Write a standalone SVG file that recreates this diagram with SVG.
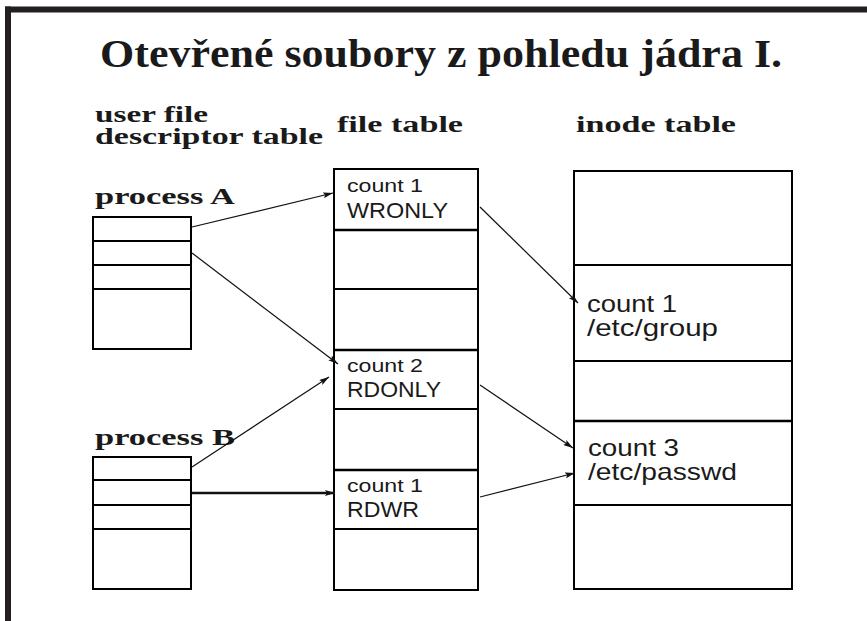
<svg xmlns="http://www.w3.org/2000/svg" width="867" height="621" viewBox="0 0 867 621">
  <defs>
    <style>
      .frame { fill: #231f20; }
      .tbl { fill: #fff; stroke: #000; stroke-width: 2; }
      .row { stroke: #000; stroke-width: 2; }
      .row-b { stroke: #000; stroke-width: 2.6; }
      .title { font-family: "Liberation Serif", "Times New Roman", serif; font-weight: bold; font-size: 40px; fill: #1a1a1a; }
      .head { font-family: "Liberation Serif", "Times New Roman", serif; font-weight: bold; font-size: 24px; fill: #1a1a1a; }
      .cnt { font-family: "Liberation Sans", Arial, sans-serif; font-size: 18px; fill: #1a1a1a; }
      .mode { font-family: "Liberation Sans", Arial, sans-serif; font-size: 22px; fill: #1a1a1a; }
      .ino { font-family: "Liberation Sans", Arial, sans-serif; font-size: 24px; fill: #1a1a1a; }
      .link { stroke: #111; stroke-width: 1.2; fill: none; marker-end: url(#head); }
      .link-b { stroke: #111; stroke-width: 2.6; fill: none; marker-end: url(#head); }
    </style>
    <marker id="head" viewBox="0 0 10 6" refX="10" refY="3" markerWidth="10" markerHeight="6" markerUnits="userSpaceOnUse" orient="auto">
      <path d="M0,0 L10,3 L0,6 L2,3 z" fill="#111"/>
    </marker>
  </defs>

  <rect width="867" height="621" fill="#fff"/>

  <!-- slide frame -->
  <rect class="frame" x="5" y="6.5" width="862" height="6"/>
  <rect class="frame" x="5" y="6.5" width="6" height="614.5"/>

  <text class="title" x="100" y="67" textLength="682" lengthAdjust="spacingAndGlyphs">Otevřené soubory z pohledu jádra I.</text>

  <!-- column headings -->
  <g id="headings">
    <text class="head" x="95" y="122" textLength="113" lengthAdjust="spacingAndGlyphs">user file</text>
    <text class="head" x="95" y="144" textLength="228" lengthAdjust="spacingAndGlyphs">descriptor table</text>
    <text class="head" x="337" y="132" textLength="126" lengthAdjust="spacingAndGlyphs">file table</text>
    <text class="head" x="576" y="132" textLength="160" lengthAdjust="spacingAndGlyphs">inode table</text>
  </g>

  <!-- per-process descriptor tables -->
  <g id="processA">
    <text class="head" x="95" y="204" textLength="140" lengthAdjust="spacingAndGlyphs">process A</text>
    <rect class="tbl" x="93" y="217" width="98" height="132"/>
    <line class="row" x1="93" y1="241" x2="191" y2="241"/>
    <line class="row" x1="93" y1="265" x2="191" y2="265"/>
    <line class="row" x1="93" y1="289" x2="191" y2="289"/>
  </g>

  <g id="processB">
    <text class="head" x="95" y="445" textLength="140" lengthAdjust="spacingAndGlyphs">process B</text>
    <rect class="tbl" x="93" y="457" width="98" height="132"/>
    <line class="row" x1="93" y1="480" x2="191" y2="480"/>
    <line class="row" x1="93" y1="505" x2="191" y2="505"/>
    <line class="row" x1="93" y1="529" x2="191" y2="529"/>
  </g>

  <!-- system-wide file table -->
  <g id="fileTable">
    <rect class="tbl" x="334" y="169" width="144" height="421"/>
    <line class="row-b" x1="334" y1="230" x2="478" y2="230"/>
    <line class="row" x1="334" y1="289" x2="478" y2="289"/>
    <line class="row-b" x1="334" y1="350" x2="478" y2="350"/>
    <line class="row" x1="334" y1="409" x2="478" y2="409"/>
    <line class="row-b" x1="334" y1="470" x2="478" y2="470"/>
    <line class="row" x1="334" y1="529" x2="478" y2="529"/>
  </g>
  <g id="fileWronly">
    <text class="cnt" x="347" y="192" textLength="76" lengthAdjust="spacingAndGlyphs">count 1</text>
    <text class="mode" x="347" y="218" textLength="101" lengthAdjust="spacingAndGlyphs">WRONLY</text>
  </g>
  <g id="fileRdonly">
    <text class="cnt" x="347" y="372" textLength="76" lengthAdjust="spacingAndGlyphs">count 2</text>
    <text class="mode" x="347" y="397" textLength="94" lengthAdjust="spacingAndGlyphs">RDONLY</text>
  </g>
  <g id="fileRdwr">
    <text class="cnt" x="347" y="492" textLength="76" lengthAdjust="spacingAndGlyphs">count 1</text>
    <text class="mode" x="347" y="517" textLength="72" lengthAdjust="spacingAndGlyphs">RDWR</text>
  </g>

  <!-- in-core inode table -->
  <g id="inodeTable">
    <rect class="tbl" x="574" y="171" width="218" height="418"/>
    <line class="row" x1="574" y1="265" x2="792" y2="265"/>
    <line class="row" x1="574" y1="361" x2="792" y2="361"/>
    <line class="row-b" x1="574" y1="421" x2="792" y2="421"/>
    <line class="row" x1="574" y1="505" x2="792" y2="505"/>
  </g>
  <g id="inodeGroup">
    <text class="ino" x="587" y="312" textLength="90" lengthAdjust="spacingAndGlyphs">count 1</text>
    <text class="ino" x="587" y="336" textLength="131" lengthAdjust="spacingAndGlyphs">/etc/group</text>
  </g>
  <g id="inodePasswd">
    <text class="ino" x="588" y="456" textLength="91" lengthAdjust="spacingAndGlyphs">count 3</text>
    <text class="ino" x="588" y="480" textLength="149" lengthAdjust="spacingAndGlyphs">/etc/passwd</text>
  </g>

  <!-- references between tables -->
  <g id="connectors">
    <line class="link" x1="192" y1="227" x2="333" y2="193"/>
    <line class="link" x1="192" y1="253" x2="338" y2="364"/>
    <line class="link" x1="192" y1="467" x2="329" y2="377"/>
    <line class="link-b" x1="192" y1="493" x2="335" y2="493"/>
    <line class="link" x1="480" y1="207" x2="578" y2="303"/>
    <line class="link" x1="480" y1="385" x2="573" y2="448"/>
    <line class="link" x1="480" y1="497" x2="575" y2="473"/>
  </g>
</svg>
